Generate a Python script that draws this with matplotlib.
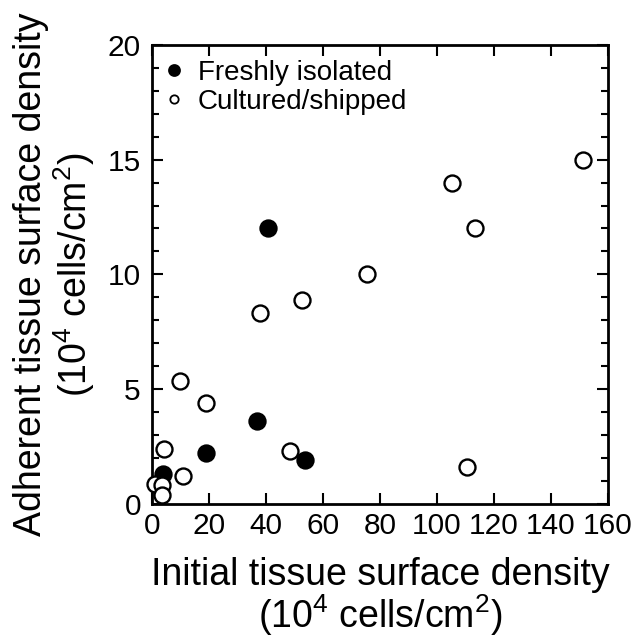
import matplotlib
matplotlib.use("Agg")
import matplotlib.pyplot as plt
from matplotlib.ticker import MultipleLocator

plt.rcParams["font.family"] = ["Liberation Sans", "DejaVu Sans"]
plt.rcParams["mathtext.fontset"] = "custom"
plt.rcParams["mathtext.rm"] = "Liberation Sans"
plt.rcParams["mathtext.it"] = "Liberation Sans"

# initial vs adherent density (10^4 cells/cm2)
fresh_x = [3.9, 18.9, 36.8, 53.7, 40.7]
fresh_y = [1.3, 2.2, 3.6, 1.9, 12.0]

cult_x = [1.0, 3.5, 3.5, 4.2, 10.9, 9.8, 18.9, 37.9, 48.4, 52.6, 75.4, 105.3, 110.5, 113.3, 151.2]
cult_y = [0.85, 0.8, 0.4, 2.4, 1.2, 5.35, 4.4, 8.3, 2.3, 8.9, 10.0, 14.0, 1.6, 12.0, 15.0]

xlabel = "Initial tissue surface density\n(10$^4$ cells/cm$^2$)"
ylabel = "Adherent tissue surface density\n(10$^4$ cells/cm$^2$)"

fig = plt.figure(figsize=(6.32, 6.41), dpi=100)
ax = fig.add_axes([0.2405, 0.214, 0.7215, 0.716])

opmark = {"marker": "o", "markersize": 11.5, "markeredgewidth": 1.7,
          "markeredgecolor": "black", "linestyle": "none", "clip_on": False, "zorder": 3}
ax.plot(fresh_x, fresh_y, markerfacecolor="black", label="Freshly isolated", **opmark)
ax.plot(cult_x, cult_y, markerfacecolor="white", label="Cultured/shipped", **opmark)

ax.set_xlim(0, 160)
ax.set_ylim(0, 20)
ax.xaxis.set_major_locator(MultipleLocator(20))
ax.yaxis.set_major_locator(MultipleLocator(5))
ax.yaxis.set_minor_locator(MultipleLocator(1))
ax.tick_params(which="both", direction="in", top=True, right=True, labelsize=21.5, width=1.5)
ax.tick_params(which="major", length=8)
ax.tick_params(which="minor", length=5)
ax.tick_params(axis="y", pad=8)
ax.tick_params(axis="x", pad=6)
for s in ax.spines.values():
    s.set_linewidth(2)

ax.set_xlabel(xlabel, fontsize=27, linespacing=1.0, labelpad=12)
ax.set_ylabel(ylabel, fontsize=27, linespacing=1.05, labelpad=8)

leg = ax.legend(loc="upper left", bbox_to_anchor=(0.0, 0.985), frameon=False, fontsize=20,
                handletextpad=0.35, borderaxespad=0.1, labelspacing=0.1, handlelength=1.0,
                borderpad=0.2)
# legend symbols are smaller than the data markers
leg.legend_handles[0].set_markersize(7.5)
leg.legend_handles[1].set_markersize(6)
leg.legend_handles[1].set_markeredgewidth(1.3)

fig.savefig("out.png", dpi=100)
